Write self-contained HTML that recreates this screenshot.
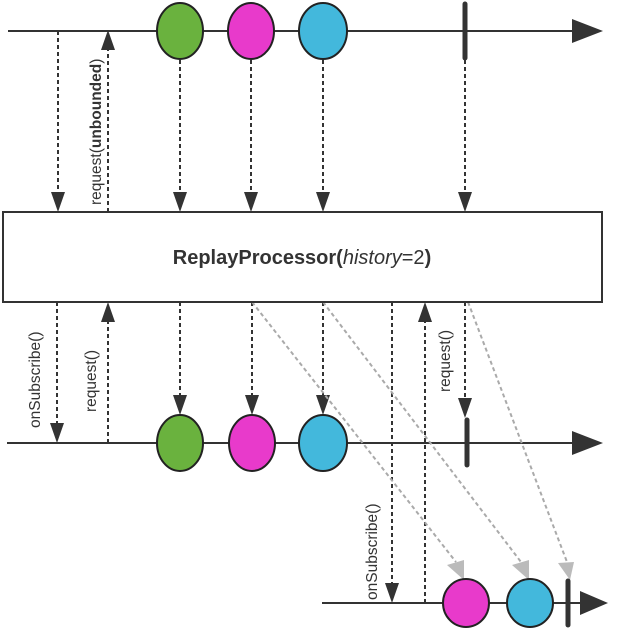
<!DOCTYPE html>
<html><head><style>body{margin:0;background:#fff}svg{display:block}</style></head><body>
<svg width="640" height="629" viewBox="0 0 640 629" xmlns="http://www.w3.org/2000/svg" font-family="Liberation Sans, sans-serif">
<g stroke="#333" stroke-width="2" fill="none">
<line x1="8" y1="31" x2="575" y2="31"/>
<line x1="7" y1="443" x2="575" y2="443"/>
<line x1="322" y1="603" x2="582" y2="603"/>
</g>
<g fill="#333">
<path d="M572,19 L603,31 L572,43z"/>
<path d="M572,431 L603,443 L572,455z"/>
<path d="M580,591 L608,603 L580,615z"/>
</g>
<g stroke="#333" stroke-width="2" stroke-dasharray="4,3" fill="none">
<line x1="58" y1="31" x2="58" y2="192"/>
<line x1="108" y1="212" x2="108" y2="50"/>
<line x1="180" y1="60" x2="180" y2="192"/>
<line x1="251" y1="60" x2="251" y2="192"/>
<line x1="323" y1="60" x2="323" y2="192"/>
<line x1="465" y1="60" x2="465" y2="192"/>
<line x1="57" y1="302" x2="57" y2="423"/>
<line x1="108" y1="443" x2="108" y2="322"/>
<line x1="180" y1="302" x2="180" y2="395"/>
<line x1="252" y1="302" x2="252" y2="395"/>
<line x1="323" y1="302" x2="323" y2="395"/>
<line x1="465" y1="302" x2="465" y2="398"/>
<line x1="392" y1="302" x2="392" y2="583"/>
<line x1="425" y1="603" x2="425" y2="322"/>
</g>
<g fill="#333">
<path d="M51,192 L65,192 L58,212z"/>
<path d="M101,50 L115,50 L108,30z"/>
<path d="M173,192 L187,192 L180,212z"/>
<path d="M244,192 L258,192 L251,212z"/>
<path d="M316,192 L330,192 L323,212z"/>
<path d="M458,192 L472,192 L465,212z"/>
<path d="M50,423 L64,423 L57,443z"/>
<path d="M101,322 L115,322 L108,302z"/>
<path d="M173,395 L187,395 L180,415z"/>
<path d="M245,395 L259,395 L252,415z"/>
<path d="M316,395 L330,395 L323,415z"/>
<path d="M458,398 L472,398 L465,418z"/>
<path d="M385,583 L399,583 L392,603z"/>
<path d="M418,322 L432,322 L425,302z"/>
</g>
<g stroke="#aaa" stroke-width="2" stroke-dasharray="4,3" fill="none">
<line x1="252" y1="302" x2="456" y2="562"/>
<line x1="323" y1="302" x2="521" y2="562"/>
<line x1="468" y1="302" x2="567" y2="562"/>
</g>
<g fill="#bbb">
<path d="M447,565 L464,560 L464,580z"/>
<path d="M512,565 L529,560 L529,580z"/>
<path d="M558,563 L574,562 L570,580z"/>
</g>
<rect x="3" y="212" width="599" height="90" fill="#fff" stroke="#333" stroke-width="2"/>
<text x="302" y="264" text-anchor="middle" font-size="20" fill="#333"><tspan font-weight="bold">ReplayProcessor(</tspan><tspan font-style="italic">history</tspan><tspan>=2</tspan><tspan font-weight="bold">)</tspan></text>
<g stroke="#222" stroke-width="2">
<ellipse cx="180" cy="31" rx="23" ry="28" fill="#6ab23e"/>
<ellipse cx="251" cy="31" rx="23" ry="28" fill="#e83acb"/>
<ellipse cx="323" cy="31" rx="24" ry="28" fill="#43b8dc"/>
<ellipse cx="180" cy="443" rx="23" ry="28" fill="#6ab23e"/>
<ellipse cx="252" cy="443" rx="23" ry="28" fill="#e83acb"/>
<ellipse cx="323" cy="443" rx="24" ry="28" fill="#43b8dc"/>
<ellipse cx="466" cy="603" rx="23" ry="24" fill="#e83acb"/>
<ellipse cx="530" cy="603" rx="23" ry="24" fill="#43b8dc"/>
</g>
<g stroke="#333" stroke-width="5" stroke-linecap="round">
<line x1="465" y1="4" x2="465" y2="58"/>
<line x1="467" y1="420" x2="467" y2="465"/>
<line x1="568" y1="581" x2="568" y2="625"/>
</g>
<g font-size="15.5" fill="#333">
<text transform="translate(101,205) rotate(-90)">request(<tspan font-weight="bold">unbounded</tspan>)</text>
<text transform="translate(40,428) rotate(-90)">onSubscribe()</text>
<text transform="translate(96,412) rotate(-90)">request()</text>
<text transform="translate(450,392) rotate(-90)">request()</text>
<text transform="translate(377,600) rotate(-90)">onSubscribe()</text>
</g>
</svg>
</body></html>
